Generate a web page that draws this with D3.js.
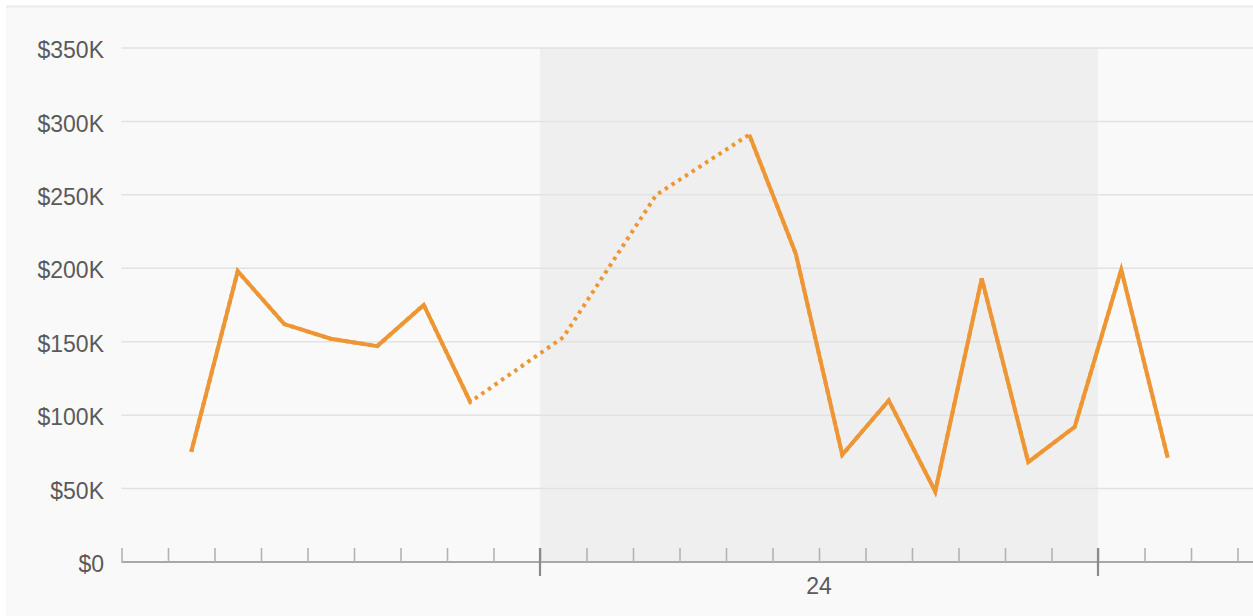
<!DOCTYPE html>
<html>
<head>
<meta charset="utf-8">
<script src="https://cdn.jsdelivr.net/npm/d3@7"></script>
<style>
  html, body { margin: 0; padding: 0; background: #ffffff; }
  svg { display: block; }
  text { font-family: "Liberation Sans", Arial, sans-serif; }
</style>
</head>
<body>
<svg id="chart" width="1253" height="616"></svg>
<script>
// ---- data ----
const times = [
  "2023-01-23T09:00Z", "2023-01-23T11:00Z", "2023-01-23T13:00Z", "2023-01-23T15:00Z",
  "2023-01-23T17:00Z", "2023-01-23T19:00Z", "2023-01-23T21:00Z", "2023-01-23T23:00Z",
  "2023-01-24T01:00Z", "2023-01-24T03:00Z", "2023-01-24T05:00Z", "2023-01-24T07:00Z",
  "2023-01-24T09:00Z", "2023-01-24T11:00Z", "2023-01-24T13:00Z", "2023-01-24T15:00Z",
  "2023-01-24T17:00Z", "2023-01-24T19:00Z", "2023-01-24T21:00Z", "2023-01-24T23:00Z",
  "2023-01-25T01:00Z", "2023-01-25T03:00Z"
];
const revenue = [
  75000, 198000, 162000, 152000,
  147000, 175000, 109000, null,
  153000, null, 250000, null,
  291000, 210000, 73000, 110000,
  48000, 193000, 68000, 92000,
  199000, 71000
];
const yTicks = [0, 50000, 100000, 150000, 200000, 250000, 300000, 350000];
const yTickLabels = ["$0", "$50K", "$100K", "$150K", "$200K", "$250K", "$300K", "$350K"];
const xDomain = ["2023-01-23T06:00Z", "2023-01-25T06:40Z"];
const highlightDay = ["2023-01-24T00:00Z", "2023-01-25T00:00Z"];
const dayLabel = "24";

// ---- layout ----
const W = 1253, H = 616;
const mLeft = 121.5, mRight = 1253, mTop = 48, mBottom = 562;

const svg = d3.select("#chart");

const x = d3.scaleUtc().domain(xDomain.map(d => new Date(d))).range([mLeft, mRight]);
const y = d3.scaleLinear().domain([0, 350000]).range([mBottom, mTop]);

const data = times.map((t, i) => ({ t: new Date(t), v: revenue[i] }));

// panel background
svg.append("rect").attr("x", 6).attr("y", 7).attr("width", W - 6).attr("height", H - 7)
  .attr("fill", "#f9f9f9");
svg.append("line").attr("x1", 6).attr("x2", W).attr("y1", 6.5).attr("y2", 6.5)
  .attr("stroke", "#ebebeb").attr("stroke-width", 2);

// highlighted day band
const b0 = x(new Date(highlightDay[0])), b1 = x(new Date(highlightDay[1]));
svg.append("rect").attr("x", b0).attr("y", mTop).attr("width", b1 - b0).attr("height", mBottom - mTop)
  .attr("fill", "#efefef");

// grid lines
svg.append("g").selectAll("line").data(yTicks.filter(d => d > 0)).join("line")
  .attr("x1", mLeft).attr("x2", mRight)
  .attr("y1", d => y(d)).attr("y2", d => y(d))
  .attr("stroke", "#e2e2e2").attr("stroke-width", 1.5);

// y labels
const yAxis = d3.axisLeft(y).tickValues(yTicks).tickSize(0).tickPadding(0)
  .tickFormat((d, i) => yTickLabels[i]);
const gy = svg.append("g").attr("transform", `translate(104,0)`).call(yAxis);
gy.select(".domain").remove();
gy.selectAll("text")
  .attr("font-family", "Liberation Sans, Arial, sans-serif")
  .attr("font-size", 23).attr("fill", "#5a5a5a")
  .attr("dy", "0.42em");

// x axis: minor 2-hour ticks
const minor = d3.utcHour.every(2).range(x.domain()[0], x.domain()[1]);
const xMinor = d3.axisTop(x).tickValues(minor).tickSize(14).tickFormat("");
const gxm = svg.append("g").attr("transform", `translate(0,${mBottom})`).call(xMinor);
gxm.select(".domain").attr("stroke", "#a8a8a8").attr("stroke-width", 2.2)
  .attr("d", `M${mLeft},0H${mRight}`);
gxm.selectAll(".tick line").attr("stroke", "#b3b3b3").attr("stroke-width", 1.6);

// major day ticks
const days = d3.utcDay.range(x.domain()[0], x.domain()[1]);
svg.append("g").selectAll("line").data(days).join("line")
  .attr("x1", d => x(d)).attr("x2", d => x(d))
  .attr("y1", mBottom - 14).attr("y2", mBottom + 14)
  .attr("stroke", "#8a8a8a").attr("stroke-width", 2.2);

// day label centred on day
svg.append("text")
  .attr("x", x(d3.utcHour.offset(new Date(highlightDay[0]), 12)))
  .attr("y", 594)
  .attr("text-anchor", "middle")
  .attr("font-size", 23).attr("fill", "#5a5a5a")
  .text(dayLabel);

// lines
const lineGen = d3.line().x(d => x(d.t)).y(d => y(d.v));
const color = "#ed9633";

svg.append("path")
  .datum(data.filter(d => d.v !== null))
  .attr("d", lineGen)
  .attr("fill", "none").attr("stroke", color).attr("stroke-width", 4)
  .attr("stroke-dasharray", "3.5,4.5");

svg.append("path")
  .datum(data)
  .attr("d", lineGen.defined(d => d.v !== null))
  .attr("fill", "none").attr("stroke", color).attr("stroke-width", 4)
  .attr("stroke-linejoin", "miter");
</script>
</body>
</html>
